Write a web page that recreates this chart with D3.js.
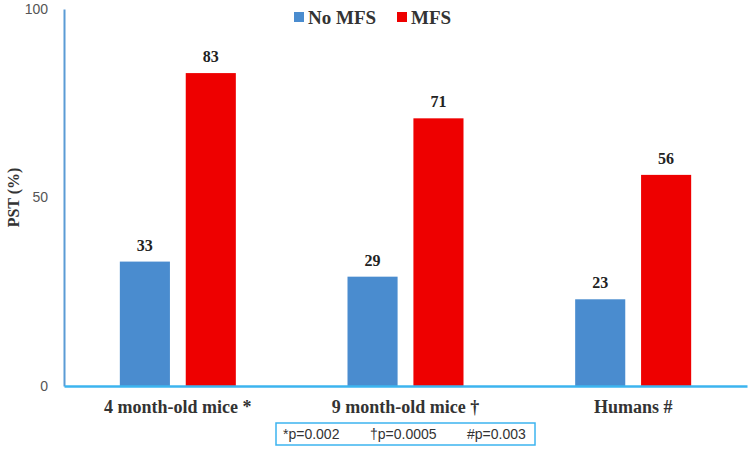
<!DOCTYPE html>
<html>
<head>
<meta charset="utf-8">
<script src="https://cdn.jsdelivr.net/npm/d3@7"></script>
<style>
  body { margin: 0; background: #fff; }
</style>
</head>
<body>
<div id="chart"></div>
<script>
// chart values
var categories = ["4 month-old mice *", "9 month-old mice \u2020", "Humans #"];
var seriesNames = ["No MFS", "MFS"];
var noMfs = [33, 29, 23];
var mfs = [83, 71, 56];
var yTicks = [0, 50, 100];
var pValues = ["*p=0.002", "\u2020p=0.0005", "#p=0.003"];

var colors = { "No MFS": "#4a8ccf", "MFS": "#ee0000" };

var margin = { top: 9, right: 2, bottom: 63, left: 64 },
  width = 749 - margin.left - margin.right,
  height = 449 - margin.top - margin.bottom;

var serif = "'Liberation Serif', 'Times New Roman', serif";
var sans = "'Liberation Sans Narrow', 'Liberation Sans', Arial, sans-serif";

var svg = d3.select("#chart")
  .append("svg")
  .attr("width", 749)
  .attr("height", 449);

var g = svg.append("g")
  .attr("transform", "translate(" + margin.left + "," + margin.top + ")");

var data = categories.map(function(c, i) {
  return { cat: c, values: [{ key: "No MFS", v: noMfs[i] }, { key: "MFS", v: mfs[i] }] };
});

var x = d3.scaleBand()
  .domain(categories)
  .range([0, width]);

var x1 = d3.scaleBand()
  .domain(seriesNames)
  .range([0, 116])
  .paddingInner(0.24);

var y = d3.scaleLinear()
  .domain([0, 100])
  .range([height, 0]);

// bars
var groups = g.selectAll(".grp")
  .data(data)
  .enter().append("g")
  .attr("transform", function(d) {
    return "translate(" + (x(d.cat) + x.bandwidth() / 2 - 58) + ",0)";
  });

groups.selectAll("rect")
  .data(function(d) { return d.values; })
  .enter().append("rect")
  .attr("x", function(d) { return x1(d.key); })
  .attr("y", function(d) { return y(d.v); })
  .attr("width", x1.bandwidth())
  .attr("height", function(d) { return height - y(d.v); })
  .attr("fill", function(d) { return colors[d.key]; });

// value labels
groups.selectAll(".val")
  .data(function(d) { return d.values; })
  .enter().append("text")
  .attr("x", function(d) { return x1(d.key) + x1.bandwidth() / 2; })
  .attr("y", function(d) { return y(d.v) - 11; })
  .attr("text-anchor", "middle")
  .style("font-family", serif)
  .style("font-weight", "bold")
  .style("font-size", "16px")
  .style("fill", "#222")
  .text(function(d) { return d.v; });

// Y axis
var yAxis = g.append("g")
  .call(d3.axisLeft(y).tickValues(yTicks).tickSize(0).tickPadding(16));
yAxis.select(".domain").attr("stroke", "#5b9bd5").attr("stroke-width", 2);
yAxis.selectAll("text")
  .style("font-family", sans)
  .style("font-size", "14px")
  .style("fill", "#555");

// X axis
var xAxis = g.append("g")
  .attr("transform", "translate(0," + height + ")")
  .call(d3.axisBottom(x).tickSize(0).tickPadding(14));
xAxis.select(".domain").attr("stroke", "#3cb4ef").attr("stroke-width", 2.5);
xAxis.selectAll("text")
  .attr("font-family", null)
  .style("font-family", serif)
  .style("font-weight", "bold")
  .style("font-size", "18px")
  .style("fill", "#333");

// text label for the y axis
g.append("text")
  .attr("transform", "rotate(-90)")
  .attr("x", -height / 2)
  .attr("y", -45)
  .attr("text-anchor", "middle")
  .style("font-family", serif)
  .style("font-weight", "bold")
  .style("font-size", "16px")
  .style("fill", "#333")
  .text("PST (%)");

// legend
var legend = svg.append("g").attr("transform", "translate(294,17)");
var lx = [0, 103];
seriesNames.forEach(function(s, i) {
  legend.append("rect")
    .attr("x", lx[i])
    .attr("y", -5)
    .attr("width", 10)
    .attr("height", 10)
    .attr("fill", colors[s]);
  legend.append("text")
    .attr("x", lx[i] + 14)
    .attr("y", 0)
    .attr("dy", "0.35em")
    .style("font-family", serif)
    .style("font-weight", "bold")
    .style("font-size", "19px")
    .style("fill", "#333")
    .text(s);
});

// p-value box
var box = svg.append("g").attr("transform", "translate(276,423)");
box.append("rect")
  .attr("width", 259)
  .attr("height", 22)
  .attr("fill", "#fff")
  .attr("stroke", "#3cb4ef")
  .attr("stroke-width", 1.5);
var px = [7, 94, 191];
pValues.forEach(function(p, i) {
  box.append("text")
    .attr("x", px[i])
    .attr("y", 11)
    .attr("dy", "0.35em")
    .style("font-family", sans)
    .style("font-size", "14px")
    .style("fill", "#333")
    .text(p);
});
</script>
</body>
</html>
